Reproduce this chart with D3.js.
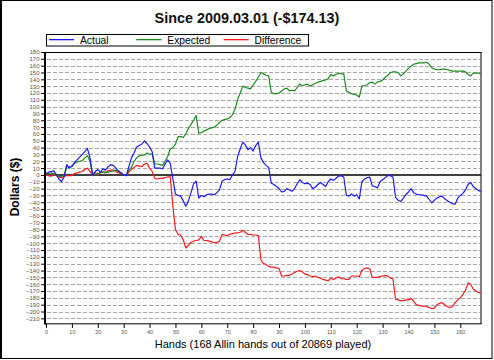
<!DOCTYPE html>
<html><head><meta charset="utf-8">
<script src="https://cdn.jsdelivr.net/npm/d3@7"></script>
<style>
html,body{margin:0;padding:0;background:#fff;}
svg{display:block;font-family:"Liberation Sans",Arial,sans-serif;}
</style></head>
<body>
<svg id="chart" width="494" height="360"></svg>
<script>
const titleText = "Since 2009.03.01 (-$174.13)";
const xTitle = "Hands (168 Allin hands out of 20869 played)";
const yTitle = "Dollars ($)";
const seriesNames = ["Actual", "Expected", "Difference"];
const seriesColors = ["#1a1aff", "#1a8a1a", "#ff1a1a"];
const xTicks = [0,10,20,30,40,50,60,70,80,90,100,110,120,130,140,150,160];
const yTicks = [-210,-200,-190,-180,-170,-160,-150,-140,-130,-120,-110,-100,-90,-80,-70,-60,-50,-40,-30,-20,-10,0,10,20,30,40,50,60,70,80,90,100,110,120,130,140,150,160,170,180];

// one value per all-in hand, 0..168
const actual = [2,4,5,6,0,-6,-10,-3,15,10,13,18,22,26,30,34,39,25,0,5,8,4,9,7,12,15,14,10,6,3,0,-1,12,25,32,41,43,45,50,46,41,34,10,10,10,9,16,22,17,-6,-28,-30,-31,-38,-46,-38,-26,-13,-9,-34,-30,-32,-29,-28,-28,-29,-26,-22,-9,-7,-6,-7,0,5,27,38,48,44,37,40,35,43,48,25,18,14,11,-12,-14,-17,-20,-25,-24,-20,-22,-24,-20,-13,-7,-11,-13,-12,-14,-20,-18,-14,-11,-14,-17,-10,-6,-8,-5,-2,-1,-3,-30,-31,-28,-31,-29,-35,-10,-6,-4,-3,-16,-17,-19,-10,-7,-4,-1,-1,-3,-33,-37,-39,-34,-29,-25,-20,-26,-28,-29,-29,-30,-31,-36,-41,-37,-34,-32,-31,-35,-38,-40,-42,-43,-34,-30,-27,-22,-14,-11,-17,-20,-23,-24];
const expected = [2,2,3,2,1,-2,-2,-1,12,12,12,17,19,20,21,25,28,20,0,1,2,3,4,4,4,5,6,7,5,3,0,-1,7,11,20,25,28,29,29,32,30,31,16,16,15,14,20,27,38,40,45,56,56,55,60,68,74,80,87,61,62,64,66,68,69,70,73,77,80,81,82,84,88,96,110,120,130,128,127,126,132,137,143,150,148,146,145,121,119,119,120,123,126,127,123,124,123,128,133,131,132,133,130,132,134,136,137,138,139,141,147,145,147,149,148,148,123,121,119,118,117,114,130,131,132,135,136,133,136,137,139,143,146,150,151,151,150,145,148,152,156,159,162,163,164,164,164,165,162,157,155,154,154,155,155,154,153,152,152,152,152,152,151,147,145,149,149,149,148];
const difference = [0,-1,-2,1,-1,-3,-4,-2,-1,-1,-1,2,3,4,5,8,10,5,-1,4,0,4,4,3,6,7,7,5,3,2,0,-1,4,8,11,14,13,12,16,17,10,5,-5,-6,-5,-5,-4,-3,-3,-46,-80,-87,-88,-95,-107,-103,-99,-97,-96,-95,-90,-96,-96,-97,-98,-99,-99,-97,-87,-88,-89,-87,-86,-85,-85,-84,-81,-84,-87,-87,-88,-88,-89,-124,-130,-131,-134,-135,-135,-136,-137,-148,-148,-147,-147,-145,-143,-141,-140,-142,-145,-146,-148,-149,-148,-150,-151,-153,-154,-155,-151,-153,-151,-149,-152,-152,-153,-153,-148,-148,-148,-149,-140,-137,-136,-137,-150,-150,-150,-149,-148,-147,-148,-151,-152,-182,-183,-184,-184,-183,-183,-181,-185,-190,-191,-192,-192,-193,-194,-196,-195,-190,-188,-187,-190,-193,-194,-193,-187,-183,-180,-175,-169,-158,-160,-167,-170,-172,-173];

const svg = d3.select("#chart");
const x = d3.scaleLinear().domain([0, 168]).range([46, 481]);
const y = d3.scaleLinear().domain([-218, 180]).range([323.8, 52]);

// outer frame
svg.append("rect").attr("x", 0.5).attr("y", 0.5).attr("width", 491.5).attr("height", 358)
  .attr("fill", "#fff").attr("stroke", "#000").attr("stroke-width", 1);
svg.append("line").attr("x1", 1).attr("x2", 1).attr("y1", 0).attr("y2", 359).attr("stroke", "#000").attr("stroke-width", 2);

// title
svg.append("text").attr("x", 247).attr("y", 22.5).attr("text-anchor", "middle")
  .attr("font-size", 14.4).attr("font-weight", "bold").attr("fill", "#111").text(titleText);

// legend
const lg = svg.append("g");
lg.append("rect").attr("x", 46.5).attr("y", 34.5).attr("width", 262).attr("height", 11.5)
  .attr("fill", "#fff").attr("stroke", "#000").attr("stroke-width", 1);
seriesNames.forEach((n, i) => {
  const x0 = 49 + i * 87.3;
  lg.append("rect").attr("x", x0).attr("y", 39).attr("width", 25).attr("height", 1.3)
    .attr("fill", seriesColors[i]);
  lg.append("text").attr("x", x0 + 31).attr("y", 43.6).attr("font-size", 10.3).attr("fill", "#000").text(n);
});

// gridlines
const grid = svg.append("g");
yTicks.filter(v => v !== 0 && v < 180).forEach(v => {
  grid.append("line").attr("x1", 47).attr("x2", 480).attr("y1", Math.round(y(v)) + 0.5).attr("y2", Math.round(y(v)) + 0.5)
    .attr("stroke", "#a8a8a8").attr("stroke-width", 1).attr("stroke-dasharray", "4,2");
});

// axes
const yAxis = d3.axisLeft(y).tickValues(yTicks).tickSize(5).tickPadding(1.5).tickFormat(d3.format("d"));
const gy = svg.append("g").attr("transform", "translate(46,0)").call(yAxis);
gy.select(".domain").remove();
gy.selectAll(".tick line").attr("stroke", "#000").attr("stroke-width", 1);
gy.selectAll(".tick text").attr("font-size", 6).attr("fill", "#555").attr("font-family", "'Liberation Sans',Arial,sans-serif");

const xAxis = d3.axisBottom(x).tickValues(xTicks).tickSize(4).tickPadding(2).tickFormat(d3.format("d"));
const gx = svg.append("g").attr("transform", "translate(0,324)").call(xAxis);
gx.select(".domain").remove();
gx.selectAll(".tick line").attr("stroke", "#000").attr("stroke-width", 1);
gx.selectAll(".tick text").attr("font-size", 5.5).attr("fill", "#555").attr("font-family", "'Liberation Sans',Arial,sans-serif");

// plot frame
svg.append("line").attr("x1", 45).attr("x2", 45).attr("y1", 52).attr("y2", 324.5).attr("stroke", "#000").attr("stroke-width", 2);
svg.append("line").attr("x1", 45).attr("x2", 481.5).attr("y1", 52.5).attr("y2", 52.5).attr("stroke", "#000").attr("stroke-width", 1);
svg.append("line").attr("x1", 481).attr("x2", 481).attr("y1", 52).attr("y2", 324).attr("stroke", "#000").attr("stroke-width", 1);
svg.append("line").attr("x1", 45).attr("x2", 481.5).attr("y1", 323.8).attr("y2", 323.8).attr("stroke", "#000").attr("stroke-width", 1);

// zero line
svg.append("line").attr("x1", 46).attr("x2", 481).attr("y1", y(0)).attr("y2", y(0)).attr("stroke", "#000").attr("stroke-width", 1.5);

// series
const line = d3.line().x((d, i) => x(i)).y(d => y(d));
[[difference, 2], [expected, 1], [actual, 0]].forEach(([data, ci]) => {
  svg.append("path").datum(data).attr("d", line).attr("fill", "none")
    .attr("stroke", seriesColors[ci]).attr("stroke-width", 1.2).attr("stroke-linejoin", "round");
});

// axis titles
svg.append("text").attr("x", 263).attr("y", 348).attr("text-anchor", "middle")
  .attr("font-size", 11).attr("fill", "#000").text(xTitle);
svg.append("text").attr("transform", "translate(18.5,187) rotate(-90)").attr("text-anchor", "middle")
  .attr("font-size", 12).attr("font-weight", "bold").attr("fill", "#000").text(yTitle);
</script>
</body></html>
